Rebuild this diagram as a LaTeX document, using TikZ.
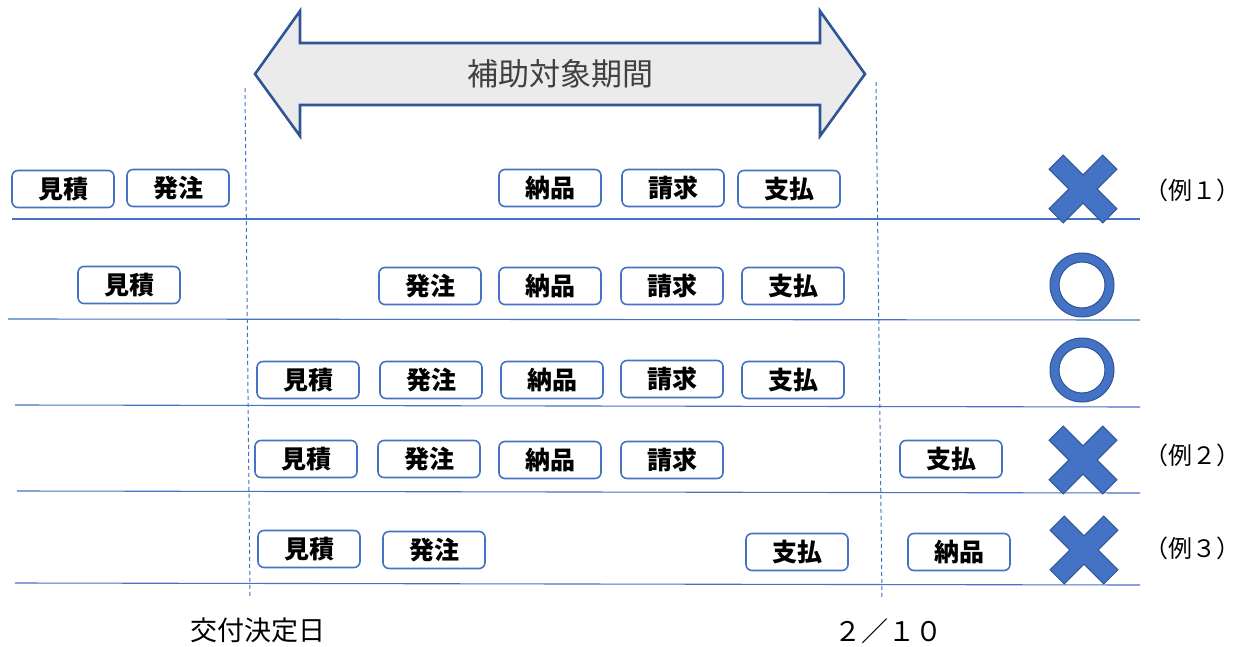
\documentclass[tikz,border=0pt]{standalone}
\usepackage{fontspec}
\setmainfont{Noto Sans CJK JP}
\definecolor{obl}{HTML}{4472C4}
\definecolor{dbl}{HTML}{2F5597}
\definecolor{agray}{HTML}{EBEBEB}
\definecolor{tgray}{HTML}{404040}
\tikzset{
  stepbox/.style={draw=obl, fill=white, line width=1.6pt, rounded corners=6pt,
    minimum width=102pt, minimum height=37pt, inner sep=0pt,
    font=\fontsize{25}{25}\selectfont\bfseries},
  rowline/.style={draw=obl, line width=1.1pt},
  period/.style={draw=obl, line width=1pt, dash pattern=on 4pt off 3pt},
  symbolfill/.style={fill=obl, draw=dbl, line width=1pt},
  exlabel/.style={font=\fontsize{24}{24}\selectfont, anchor=west, inner sep=0pt},
  datelabel/.style={font=\fontsize{27}{27}\selectfont, inner sep=0pt},
}
\newcommand{\crossmark}[2]{%
  \filldraw[symbolfill, shift={(#1,#2)}, rotate=45]
    (10,38) -- (10,10) -- (38,10) -- (38,-10) -- (10,-10) -- (10,-38)
    -- (-10,-38) -- (-10,-10) -- (-38,-10) -- (-38,10) -- (-10,10) -- (-10,38) -- cycle;}
\newcommand{\circlemark}[2]{%
  \filldraw[symbolfill, even odd rule] (#1,#2) circle[radius=32] (#1,#2) circle[radius=23];}
\begin{document}
\begin{tikzpicture}[x=1pt,y=-1pt]
\useasboundingbox (0,0) rectangle (1240,646);
% period arrow
\draw[draw=dbl, fill=agray, line width=2.6pt, line join=miter]
  (255,74) -- (300,11) -- (300,43) -- (820,43) -- (820,11) -- (865,74)
  -- (820,136) -- (820,105) -- (300,105) -- (300,136) -- cycle;
\node[font=\fontsize{31}{31}\selectfont, text=tgray] (period) at (560,74) {補助対象期間};
% dashed period boundaries
\coordinate (ltop) at (245,88);
\coordinate (lbot) at (250,596);
\coordinate (rtop) at (876,82);
\coordinate (rbot) at (882,598);
\draw[period] (ltop) -- (lbot);
\draw[period] (rtop) -- (rbot);
% row lines
\coordinate (a1) at (12,219);  \coordinate (b1) at (1140,219);
\coordinate (a2) at (8,319);   \coordinate (b2) at (1140,320);
\coordinate (a3) at (15,405);  \coordinate (b3) at (1140,407);
\coordinate (a4) at (17,491);  \coordinate (b4) at (1140,493);
\coordinate (a5) at (15,583);  \coordinate (b5) at (1140,585);
\foreach \i in {1,...,5} {\draw[rowline] (a\i) -- (b\i);}
% row 1
\node[stepbox] (r1a) at (63,189) {見積};
\node[stepbox] (r1b) at (178,188) {発注};
\node[stepbox] (r1c) at (550,188) {納品};
\node[stepbox] (r1d) at (673,188) {請求};
\node[stepbox] (r1e) at (789,189) {支払};
% row 2
\node[stepbox] (r2a) at (129,285) {見積};
\node[stepbox] (r2b) at (430,286) {発注};
\node[stepbox] (r2c) at (550,286) {納品};
\node[stepbox] (r2d) at (672,286) {請求};
\node[stepbox] (r2e) at (793,286) {支払};
% row 3
\node[stepbox] (r3a) at (308,380) {見積};
\node[stepbox] (r3b) at (431,380) {発注};
\node[stepbox] (r3c) at (552,380) {納品};
\node[stepbox] (r3d) at (672,379) {請求};
\node[stepbox] (r3e) at (793,380) {支払};
% row 4
\node[stepbox] (r4a) at (306,459) {見積};
\node[stepbox] (r4b) at (429,459) {発注};
\node[stepbox] (r4c) at (550,460) {納品};
\node[stepbox] (r4d) at (672,460) {請求};
\node[stepbox] (r4e) at (951,459) {支払};
% row 5
\node[stepbox] (r5a) at (309,549) {見積};
\node[stepbox] (r5b) at (434,550) {発注};
\node[stepbox] (r5e) at (797,552) {支払};
\node[stepbox] (r5c) at (959,552) {納品};
% marks
\crossmark{1083}{189}
\circlemark{1082}{285}
\circlemark{1082}{370}
\crossmark{1083}{460}
\crossmark{1084}{550}
% example labels
\node[exlabel] (ex1) at (1144,190) {（例１）};
\node[exlabel] (ex2) at (1144,455) {（例２）};
\node[exlabel] (ex3) at (1144,548) {（例３）};
% dates
\node[datelabel] (d1) at (258,630) {交付決定日};
\node[datelabel] (d2) at (888,631) {２／１０};
\end{tikzpicture}
\end{document}
